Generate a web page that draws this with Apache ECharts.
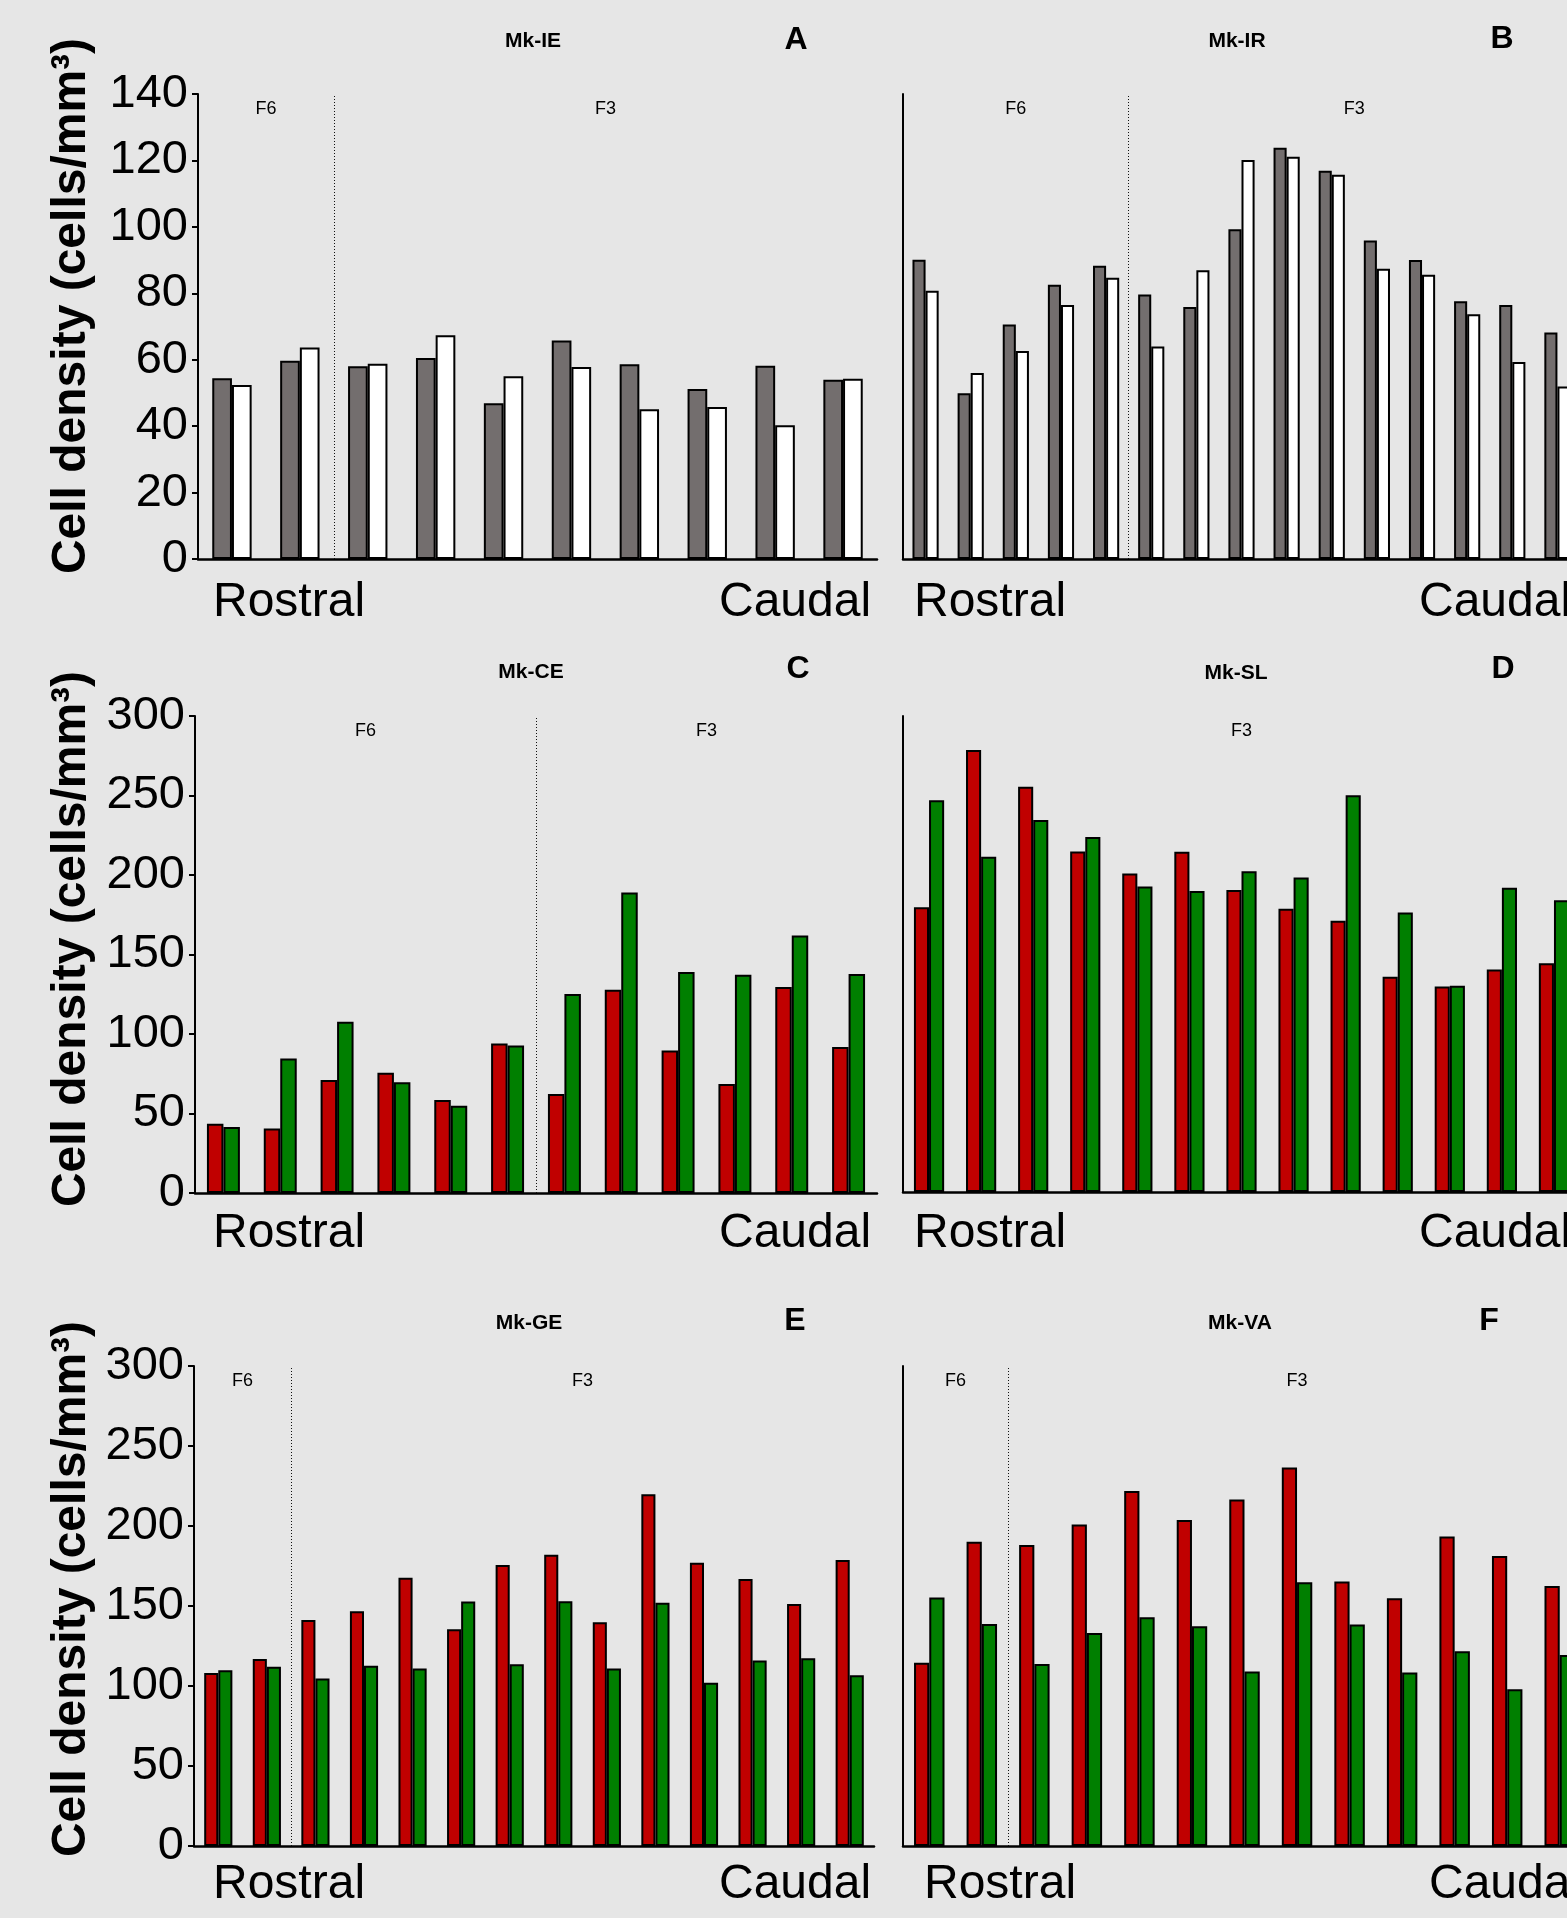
<!DOCTYPE html>
<html>
<head>
<meta charset="utf-8">
<title>Cell density rostral-caudal</title>
<script src="https://cdn.jsdelivr.net/npm/echarts@6.0.0/dist/echarts.min.js"></script>
<style>
  html, body { margin: 0; padding: 0; background: #e6e6e6; }
  #chart { width: 1567px; height: 1918px; }
</style>
</head>
<body>
<div id="chart"></div>
<script>
// values, rostral -> caudal
// Mk-IE (A)
var ieGray  = [54.4, 59.7, 58.0, 60.5, 46.9, 65.8, 58.6, 51.2, 58.2, 54.0];
var ieWhite = [52.4, 63.7, 58.8, 67.4, 55.0, 57.8, 45.1, 45.8, 40.3, 54.3];
// Mk-IR (B)
var irGray  = [90.1, 49.9, 70.6, 82.6, 88.3, 79.6, 75.9, 99.3, 123.8, 116.9, 95.9, 90.0, 77.6, 76.5, 68.2];
var irWhite = [80.8, 56.0, 62.6, 76.5, 84.7, 64.0, 86.9, 120.1, 121.1, 115.7, 87.4, 85.6, 73.7, 59.3, 51.9];
// Mk-CE (C)
var ceRed   = [43.6, 40.5, 71.0, 75.6, 58.5, 94.1, 62.3, 127.9, 89.7, 68.5, 129.5, 91.8];
var ceGreen = [41.5, 84.6, 107.7, 69.7, 54.9, 92.8, 125.1, 189.0, 139.0, 137.2, 162.0, 137.7];
// Mk-SL (D)
var slRed   = [179.5, 278.5, 255.4, 214.6, 200.8, 214.4, 190.3, 178.5, 171.0, 135.6, 129.5, 140.3, 144.1];
var slGreen = [246.9, 211.3, 234.4, 223.8, 192.6, 189.7, 202.1, 198.2, 250.0, 176.2, 130.0, 191.8, 183.8];
// Mk-GE (E)
var geRed   = [108.2, 116.9, 141.3, 146.7, 167.6, 135.5, 175.7, 182.1, 139.8, 219.8, 177.0, 166.8, 151.3, 178.8];
var geGreen = [109.8, 112.0, 104.7, 112.6, 111.0, 152.8, 113.6, 153.0, 111.0, 152.0, 102.1, 115.9, 117.4, 106.7];
// Mk-VA (F)
var vaRed   = [114.6, 190.2, 188.2, 200.9, 221.8, 203.7, 216.5, 236.6, 165.3, 154.8, 193.5, 181.3, 162.5];
var vaGreen = [155.3, 138.8, 113.8, 133.2, 142.9, 137.3, 109.0, 164.8, 138.5, 108.5, 121.7, 98.0, 119.4];

// cortical fields: [label, from section, to section] (section boundaries)
var ieRegions = [['F6', 0, 2], ['F3', 2, 10]];
var irRegions = [['F6', 0, 5], ['F3', 5, 15]];
var ceRegions = [['F6', 0, 6], ['F3', 6, 12]];
var slRegions = [['F3', 0, 13]];
var geRegions = [['F6', 0, 2], ['F3', 2, 14]];
var vaRegions = [['F6', 0, 2], ['F3', 2, 13]];

var yTicks140 = [0, 140, 20];
var yTicks300 = [0, 300, 50];

var GRAY = '#736e6e', WHITE = '#ffffff', RED = '#c00000', GREEN = '#007f00';
var FONT = '"Liberation Sans", Arial, sans-serif';

// layout of the six panels (pixels)
var panels = [
    {letter: 'A', name: 'Mk-IE', a: ieGray, b: ieWhite, colors: [GRAY, WHITE], regions: ieRegions, ticks: yTicks140,
     left: 198, top: 94, width: 679, height: 465, labels: true,
     nameX: 533, nameY: 41, letterX: 796, letterY: 40, rostralX: 213, caudalX: 719, textY: 603, yTitleY: 306},
    {letter: 'B', name: 'Mk-IR', a: irGray, b: irWhite, colors: [GRAY, WHITE], regions: irRegions, ticks: yTicks140,
     left: 903, top: 94, width: 677, height: 465, labels: false,
     nameX: 1237, nameY: 41, letterX: 1502, letterY: 39, rostralX: 914, caudalX: 1419, textY: 603},
    {letter: 'C', name: 'Mk-CE', a: ceRed, b: ceGreen, colors: [RED, GREEN], regions: ceRegions, ticks: yTicks300,
     left: 195, top: 716, width: 682, height: 477, labels: true,
     nameX: 531, nameY: 672, letterX: 798, letterY: 669, rostralX: 213, caudalX: 719, textY: 1234, yTitleY: 939},
    {letter: 'D', name: 'Mk-SL', a: slRed, b: slGreen, colors: [RED, GREEN], regions: slRegions, ticks: yTicks300,
     left: 903, top: 716, width: 677, height: 476, labels: false,
     nameX: 1236, nameY: 673, letterX: 1503, letterY: 669, rostralX: 914, caudalX: 1419, textY: 1234},
    {letter: 'E', name: 'Mk-GE', a: geRed, b: geGreen, colors: [RED, GREEN], regions: geRegions, ticks: yTicks300,
     left: 194, top: 1366, width: 680, height: 480, labels: true,
     nameX: 529, nameY: 1323, letterX: 795, letterY: 1321, rostralX: 213, caudalX: 719, textY: 1885, yTitleY: 1589},
    {letter: 'F', name: 'Mk-VA', a: vaRed, b: vaGreen, colors: [RED, GREEN], regions: vaRegions, ticks: yTicks300,
     left: 903, top: 1366, width: 683, height: 480, labels: false,
     nameX: 1240, nameY: 1323, letterX: 1489, letterY: 1321, rostralX: 924, caudalX: 1429, textY: 1885}
];

var chart = echarts.init(document.getElementById('chart'));

var option = {
    backgroundColor: '#e6e6e6',
    animation: false,
    grid: [],
    xAxis: [],
    yAxis: [],
    series: [],
    graphic: []
};

function txt(x, y, text, font, align) {
    return {
        type: 'text', x: x, y: y, silent: true,
        style: {text: text, font: font, fill: '#000', align: align || 'center', verticalAlign: 'middle'}
    };
}

panels.forEach(function (p, i) {
    var cats = p.a.map(function (v, k) { return 'S' + (k + 1); });
    var catAxis = option.xAxis.length;

    option.grid.push({left: p.left, top: p.top, width: p.width, height: p.height,
        containLabel: false, outerBoundsMode: 'none'});

    // category axis for the bars
    option.xAxis.push({
        type: 'category', gridIndex: i, data: cats,
        axisLine: {show: true, lineStyle: {color: '#000', width: 2.5}},
        axisTick: {show: false},
        axisLabel: {show: false},
        splitLine: {show: false}
    });
    // hidden section axis (0..n) for the field boundaries
    option.xAxis.push({
        type: 'value', gridIndex: i, min: 0, max: cats.length, show: false,
        splitLine: {show: false}
    });

    option.yAxis.push({
        type: 'value', gridIndex: i,
        min: p.ticks[0], max: p.ticks[1], interval: p.ticks[2],
        axisLine: {show: true, lineStyle: {color: '#000', width: 2}},
        axisTick: {show: p.labels, length: 6, lineStyle: {color: '#000', width: 2}},
        axisLabel: {show: p.labels, fontSize: 47, color: '#000', margin: 10, fontFamily: FONT},
        splitLine: {show: false}
    });

    [p.a, p.b].forEach(function (vals, s) {
        option.series.push({
            type: 'bar', xAxisIndex: catAxis, yAxisIndex: i,
            data: vals,
            barGap: '0%', barCategoryGap: '42%',
            itemStyle: {color: p.colors[s], borderColor: '#000', borderWidth: 2},
            silent: true
        });
    });

    // field labels and dotted boundary lines
    option.series.push({
        type: 'line', xAxisIndex: catAxis + 1, yAxisIndex: i,
        data: [], silent: true,
        markArea: {
            silent: true,
            itemStyle: {color: 'rgba(0,0,0,0)'},
            label: {show: true, position: 'insideTop', distance: 6, fontSize: 18,
                    color: '#000', fontFamily: FONT},
            data: p.regions.map(function (r) {
                return [{name: r[0], xAxis: r[1]}, {xAxis: r[2]}];
            })
        },
        markLine: {
            silent: true, symbol: 'none', label: {show: false},
            lineStyle: {color: '#111', width: 1, type: [1, 2]},
            data: p.regions.slice(1).map(function (r) { return {xAxis: r[1]}; })
        }
    });

    option.graphic.push(txt(p.nameX, p.nameY, p.name, 'bold 21px ' + FONT));
    option.graphic.push(txt(p.letterX, p.letterY, p.letter, 'bold 32px ' + FONT));
    option.graphic.push(txt(p.rostralX, p.textY, 'Rostral', '48px ' + FONT, 'left'));
    option.graphic.push(txt(p.caudalX, p.textY, 'Caudal', '48px ' + FONT, 'left'));

    if (p.labels) {
        var t = txt(72, p.yTitleY, 'Cell density (cells/mm\u00b3)', 'bold 48px ' + FONT);
        t.rotation = Math.PI / 2;
        option.graphic.push(t);
    }
});

chart.setOption(option);

window.addEventListener('resize', function () {
    chart.resize();
});
</script>
</body>
</html>
